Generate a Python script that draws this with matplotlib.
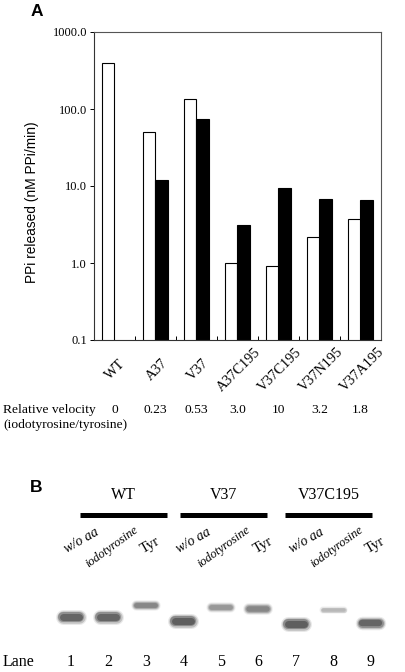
import numpy as np
import matplotlib
matplotlib.use("Agg")
import matplotlib.pyplot as plt
from matplotlib.transforms import blended_transform_factory
from matplotlib.ticker import NullLocator, FixedLocator

# ---------------- data ----------------
mutants = ['WT', 'A37', 'V37', 'A37C195', 'V37C195', 'V37N195', 'V37A195']
ppi_open = [395, 50, 135, 1.0, 0.91, 2.2, 3.7]          # open bars
ppi_filled = [np.nan, 12, 74, 3.1, 9.4, 6.8, 6.6]       # filled bars
rel_velocity = ['0', '0.23', '0.53', '3.0', '10', '3.2', '1.8']
y_ticks = [0.1, 1, 10, 100, 1000]
y_tick_labels = ['0.1', '1.0', '10.0', '100.0', '1000.0']

gel_groups = ['WT', 'V37', 'V37C195']
gel_conditions = ['w/o aa', 'iodotyrosine', 'Tyr']
lanes = [1, 2, 3, 4, 5, 6, 7, 8, 9]
band_migration = [147, 147, 135, 151, 137, 139, 154, 140, 153]   # relative migration (a.u.)
band_intensity = [0.8, 0.8, 0.55, 0.85, 0.45, 0.55, 0.85, 0.28, 0.8]
band_thickness = [10, 10, 7, 10, 7, 8, 10, 5, 9]

SERIF = 'Liberation Serif'
SANS = 'Liberation Sans'

W, H = 406, 672
fig = plt.figure(figsize=(W / 100, H / 100), dpi=100)


def fx(px):
    return px / W


def fy(py):
    return 1 - py / H


# ---------------- panel A ----------------
ax = fig.add_axes([fx(94), fy(340), 287 / W, 308 / H])
x = np.arange(len(mutants)) + 0.5
bw = 0.293
ax.bar(x - bw / 2, ppi_open, bw, color='white', edgecolor='black', linewidth=0.8, log=True)
ax.bar(x + bw / 2, ppi_filled, bw, color='black', edgecolor='black', linewidth=0.8, log=True)
ax.set_yscale('log')
ax.set_ylim(0.1, 1000)
ax.set_xlim(0, len(mutants))
ax.yaxis.set_major_locator(FixedLocator(y_ticks))
ax.yaxis.set_minor_locator(NullLocator())
ax.set_yticklabels(y_tick_labels, fontfamily=SERIF, fontsize=9)
ax.tick_params(axis='y', direction='out', length=3, width=0.7, pad=2)
ax.set_xticks(np.arange(1, len(mutants)))
ax.set_xticklabels([])
ax.tick_params(axis='x', direction='in', length=3, width=0.7)
for s in ['left', 'bottom']:
    ax.spines[s].set_color('#333333')
    ax.spines[s].set_linewidth(0.8)
for s in ['top', 'right']:
    ax.spines[s].set_color('#555555')
    ax.spines[s].set_linewidth(0.8)

trans = blended_transform_factory(ax.transData, ax.transAxes)
for xi, name in zip(x, mutants):
    ax.text(xi + 0.03, -0.097, name, transform=trans, rotation=45, ha='center', va='center',
            fontfamily=SERIF, fontsize=10.3)
for xi, v in zip(x, rel_velocity):
    ax.text(xi, -0.227, v, transform=trans, ha='center', va='center',
            fontfamily=SERIF, fontsize=9.7)

fig.text(fx(3), fy(410), 'Relative velocity', ha='left', va='center', fontfamily=SERIF, fontsize=9.7)
fig.text(fx(3), fy(425), '(iodotyrosine/tyrosine)', ha='left', va='center', fontfamily=SERIF, fontsize=9.7)
fig.text(fx(32), fy(202), 'PPi released (nM PPi/min)', rotation=90, ha='center', va='center',
         fontfamily=SANS, fontsize=9.9)
fig.text(fx(37), fy(11), 'A', ha='center', va='center', fontfamily=SANS, fontweight='bold', fontsize=12.5)

# ---------------- panel B ----------------
gax = fig.add_axes([0, 0, 1, 202 / H])
lane_px = 37.5
gax.set_xlim(1 - 71 / lane_px, 1 + (W - 71) / lane_px)
gax.set_ylim(202, 0)
gax.axis('off')
pt = 0.72  # points per pixel

for lane, ymig, inten, th in zip(lanes, band_migration, band_intensity, band_thickness):
    half = (13 - th / 2) / lane_px
    for scale, alpha in [(1.5, 0.12), (1.25, 0.25), (1.0, 0.4), (0.7, 0.5)]:
        gax.plot([lane - half, lane + half], [ymig, ymig], color='#262626',
                 lw=th * scale * pt, alpha=alpha * inten, solid_capstyle='round')

group_centers = [2.40, 5.07, 7.87]
bar_len = 2.32
for gc, gname in zip(group_centers, gel_groups):
    gax.plot([gc - bar_len / 2, gc + bar_len / 2], [45, 45], color='black', lw=5 * pt,
             solid_capstyle='butt')
    gax.text(gc, 25, gname, ha='center', va='center', fontfamily=SERIF, fontsize=11.5)

cond_offset = [0.28, 0.08, 0.12]
cond_y = [71, 77, 75]
cond_rot = [30, 36, 30]
cond_style = ['italic', 'italic', 'normal']
cond_size = [10, 9, 10.5]
for lane in lanes:
    c = (lane - 1) % 3
    gax.text(lane + cond_offset[c], cond_y[c], gel_conditions[c], rotation=cond_rot[c],
             ha='center', va='center', fontfamily=SERIF, style=cond_style[c], fontsize=cond_size[c])
    gax.text(lane, 192, str(lane), ha='center', va='center', fontfamily=SERIF, fontsize=11.5)

fig.text(fx(3), fy(662), 'Lane', ha='left', va='center', fontfamily=SERIF, fontsize=11.5)
fig.text(fx(36), fy(487), 'B', ha='center', va='center', fontfamily=SANS, fontweight='bold', fontsize=12.5)

fig.savefig('out.png', dpi=100)
